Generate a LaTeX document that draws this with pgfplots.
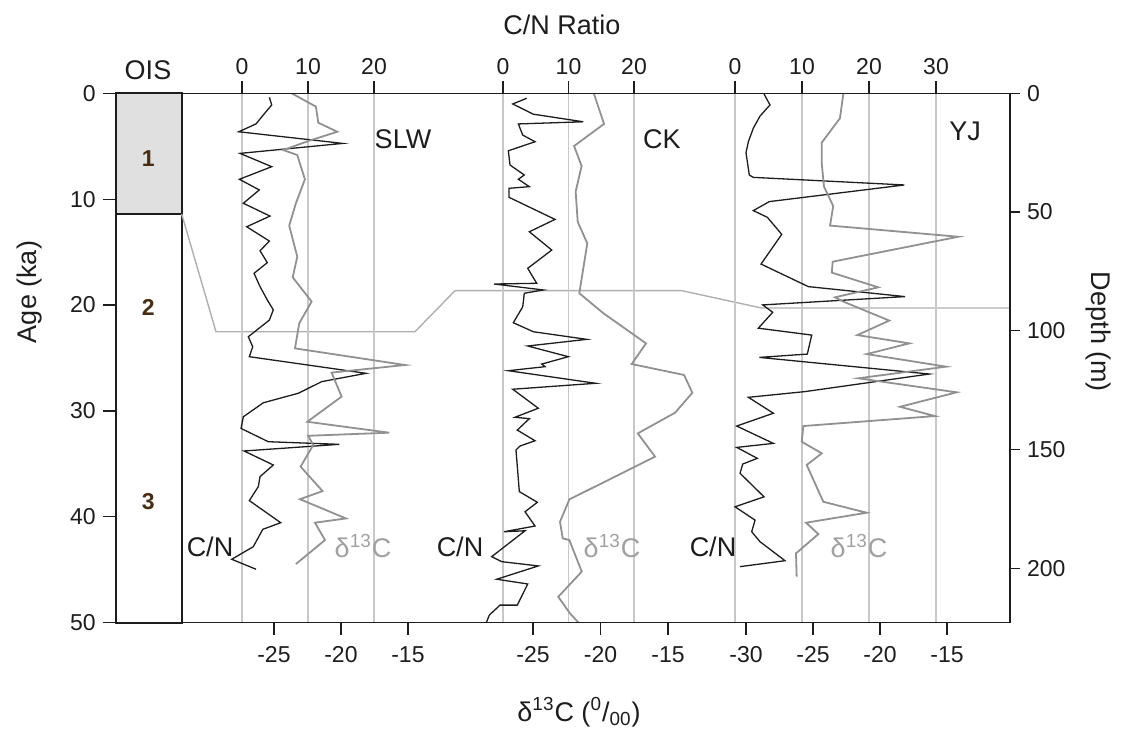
\documentclass[border=0pt]{standalone}
\usepackage{fontspec}
\setmainfont{Liberation Sans}
\usepackage{pgfplots}
\pgfplotsset{compat=1.18}

\definecolor{ink}{RGB}{30,28,28}
\definecolor{dgray}{RGB}{145,145,145}
\definecolor{gridgray}{RGB}{200,200,200}
\definecolor{conngray}{RGB}{175,175,175}
\definecolor{labgray}{RGB}{160,160,160}
\definecolor{oisfill}{RGB}{224,224,224}
\definecolor{oisnum}{RGB}{70,45,20}

% one frame for every overlaid axis: 1 px of the reference = 0.5pt
\pgfplotsset{
  frame/.style={at={(0,0)}, anchor=south west, scale only axis,
    width=447.15pt, height=264.7pt, tick align=outside,
    axis line style={ink, line width=0.75pt},
    every tick/.style={ink, line width=0.6pt},
    ticklabel style={font=\fontsize{11.5}{13}\selectfont, text=ink}},
  panel/.style={frame, ymin=0, ymax=222.9, y dir=reverse,
    axis y line=none, major tick length=6pt},
  cn/.style={panel, axis x line*=top, xmajorgrids,
    grid style={gridgray, line width=0.7pt}},
  d13/.style={panel, axis x line*=bottom, xticklabel style={yshift=-2.5pt}},
  cnline/.style={ink, line width=0.65pt, mark=none},
  dline/.style={dgray, line width=0.9pt, mark=none},
}

\begin{document}
\begin{tikzpicture}

% age axis, OIS column and boundary connectors (x in reference pixels)
\begin{axis}[frame, xmin=115.7, xmax=1010, ymin=0, ymax=50, y dir=reverse,
  axis x line=none, axis y line*=left, major tick length=6.5pt,
  ytick={0,10,20,30,40,50}, yticklabels={0,10,20,30,40,50}, clip=false]
\fill[oisfill] (axis cs:115.7,0) rectangle (axis cs:181.7,11.4);
\draw[ink, line width=1pt] (axis cs:115.7,0) rectangle (axis cs:181.7,50);
\draw[ink, line width=1pt] (axis cs:115.7,11.4) -- (axis cs:181.7,11.4);
\draw[conngray, line width=0.7pt] (axis cs:181.7,11.4) -- (axis cs:216,22.52)
  -- (axis cs:415,22.52) -- (axis cs:455,18.64) -- (axis cs:681.7,18.64)
  -- (axis cs:761.7,20.28) -- (axis cs:1010,20.28);
\node[oisnum, font=\bfseries\fontsize{11.5}{13}\selectfont] at (axis cs:148.3,6.2) {1};
\node[oisnum, font=\bfseries\fontsize{11.5}{13}\selectfont] at (axis cs:148.3,20.2) {2};
\node[oisnum, font=\bfseries\fontsize{11.5}{13}\selectfont] at (axis cs:148.3,38.6) {3};
\end{axis}

% ---- SLW ----
\begin{axis}[cn, xmin=-19.14, xmax=116.36, xtick={0,10,20}, xticklabels={0,10,20}]
\addplot[cnline] coordinates {(4.14,1.7) (4.5,4.9) (3.23,9.1) (2.12,12.9) (-0.5,16.2)
 (15.26,21.1) (-0.3,25.3) (4.5,30.9) (-0.4,36.2) (2.62,40.7) (0.2,46.3) (4.24,51.7)
 (0.71,56.2) (4.14,62.2) (2.73,66.3) (3.83,71.3) (1.82,75.8) (2.73,81.4) (3.83,87.0)
 (4.74,91.2) (4.14,95.5) (0.95,102.5) (1.62,106.7) (1.11,110.9) (18.79,117.9)
 (12.08,121.4) (8.53,126.3) (3.23,130.3) (0.2,136.2) (-0.15,141.1) (3.98,146.7)
 (14.74,147.8) (0.3,150.6) (4.74,156.5) (2.73,161.4) (2.47,165.6) (1.11,171.5)
 (5.86,180.8) (3.14,183.6) (1.71,190.9) (-1.56,196.2) (2.12,200.4)};
\end{axis}
\begin{axis}[d13, xmin=-36.81, xmax=29.93, xtick={-25,-20,-15}, xticklabels={-25,-20,-15}]
\addplot[dline] coordinates {(-23.68,0) (-21.87,5.6) (-21.69,12.4) (-20.27,16.2)
 (-22.44,20.1) (-24.3,23.9) (-23.26,26.0) (-22.69,36.2) (-23.36,46.3) (-23.86,55.7)
 (-23.26,68.8) (-23.6,77.5) (-22.19,87.7) (-23.11,96.8) (-23.43,107.4) (-15.22,114.4)
 (-20.7,117.6) (-19.95,127.7) (-22.51,138.3) (-16.4,142.9) (-22.44,144.2)
 (-22.07,148.1) (-23.01,157.2) (-21.37,167.5) (-23.06,170.9) (-19.63,179.0)
 (-21.94,180.8) (-21.19,188.1) (-23.36,198.2)};
\end{axis}

% ---- CK ----
\begin{axis}[cn, xmin=-59.13, xmax=77.40, xtick={0,10,20}, xticklabels={0,10,20}]
\addplot[cnline] coordinates {(3.62,2.1) (1.48,4.5) (4.63,8.8) (12.26,12.0) (2.34,12.9)
 (3.01,17.6) (4.89,20.4) (0.81,24.2) (1.07,30.2) (3.25,34.4) (2.34,36.2) (4.02,39.3)
 (0.92,40.0) (0.92,43.8) (7.94,53.1) (4.02,58.3) (7.44,66.0) (3.77,73.7) (5.15,80.0)
 (-1.37,80.3) (6.15,82.8) (3.25,84.2) (3.01,89.9) (1.57,96.6) (4.63,100.4)
 (12.78,103.6) (3.77,106.4) (9.97,110.9) (5.91,114.0) (6.41,115.1) (0.81,116.8)
 (14.15,122.1) (1.48,124.6) (5.39,132.6) (1.83,136.4) (4.02,137.0) (2.18,141.8)
 (4.89,146.3) (2.6,148.5) (1.98,150.2) (2.49,167.7) (5.24,172.2) (3.36,176.2)
 (4.89,182.2) (0.15,184.6) (3.36,184.2) (-1.73,195.1) (-0.2,197.2) (5.39,199.0)
 (-0.96,204.6) (3.77,206.6) (2.18,215.5) (-0.46,215.5) (-2.09,219.7) (-2.55,222.9)};
\end{axis}
\begin{axis}[d13, xmin=-55.91, xmax=10.33, xtick={-25,-20,-15}, xticklabels={-25,-20,-15}]
\addplot[dline] coordinates {(-20.48,0.3) (-19.74,12.9) (-21.96,22.2) (-21.4,30.6)
 (-21.84,41.4) (-21.69,54.1) (-20.98,63.2) (-21.57,84.2) (-19.79,92.6) (-16.63,105.3)
 (-17.69,114.0) (-13.81,118.6) (-13.2,126.1) (-14.48,134.5) (-17.24,143.2)
 (-15.96,153.0) (-22.31,171.0) (-23.0,180.4) (-22.8,187.4) (-22.31,188.1)
 (-21.39,201.4) (-23.13,212.0) (-22.26,219.0) (-21.62,222.9)};
\end{axis}

% ---- YJ ----
\begin{axis}[cn, xmin=-92.43, xmax=41.04, xtick={0,10,20,30}, xticklabels={0,10,20,30}]
\addplot[cnline] coordinates {(4.33,0.3) (5.22,4.9) (3.73,9.6) (2.73,14.7) (1.99,20.4)
 (1.64,25.0) (2.13,34.4) (2.73,35.4) (25.27,38.6) (5.12,45.6) (2.73,49.4) (4.82,52.2)
 (6.97,59.4) (3.88,71.9) (10.94,81.4) (25.37,85.6) (4.13,89.1) (5.63,92.2)
 (3.48,98.9) (11.45,101.8) (10.79,109.8) (3.63,111.2) (29.0,118.2) (10.45,125.6)
 (1.99,128.0) (5.72,134.7) (0.25,140.1) (5.72,147.4) (0.25,149.1) (3.33,153.7)
 (1.15,156.1) (0.75,160.0) (4.33,169.9) (0,174.1) (2.99,179.7) (2.49,184.6)
 (3.73,188.8) (7.46,196.8) (0.75,199.3)};
\end{axis}
\begin{axis}[d13, xmin=-77.04, xmax=-10.30, xtick={-30,-25,-20,-15}, xticklabels={-30,-25,-20,-15}]
\addplot[dline] coordinates {(-22.74,0.3) (-22.99,10.5) (-24.35,20.8) (-24.35,29.5)
 (-24.18,39.3) (-23.49,47.5) (-23.73,55.7) (-14.16,60.4) (-23.53,70.9) (-23.6,75.5)
 (-20.13,81.7) (-23.36,85.9) (-22.74,87.7) (-19.31,95.7) (-21.69,101.8) (-17.81,105.3)
 (-20.99,109.8) (-15.07,115.1) (-21.62,120.0) (-14.28,125.9) (-18.51,132.0)
 (-15.9,135.9) (-25.72,140.1) (-25.84,146.7) (-24.35,151.6) (-25.47,156.5)
 (-24.23,172.0) (-20.99,176.6) (-25.52,180.8) (-24.6,185.6) (-26.27,193.7)
 (-26.22,203.5)};
\end{axis}

% depth axis on the right
\begin{axis}[frame, xmin=0, xmax=1, ymin=0, ymax=222.9, y dir=reverse,
  axis x line=none, axis y line*=right, major tick length=5pt,
  ytick={0,50,100,150,200}, yticklabels={0,50,100,150,200}]
\end{axis}

% texts, placed in reference pixel coordinates
\begin{scope}[x=0.5pt, y=-0.5pt, shift={(-57.85pt,311.35pt)},
  every node/.style={text=ink, font=\fontsize{13.5}{16}\selectfont}]
\node at (562,25) {C/N Ratio};
\node at (148,70) {OIS};
\node[rotate=90] at (30,292) {Age (ka)};
\node[rotate=-90] at (1098,332) {Depth (m)};
\node at (403,139) {SLW};
\node at (662,139) {CK};
\node at (965,131) {YJ};
\node at (210,547) {C/N};
\node at (460,547) {C/N};
\node at (713,547) {C/N};
\node[text=labgray] at (363,546) {δ\textsuperscript{13}C};
\node[text=labgray] at (612,546) {δ\textsuperscript{13}C};
\node[text=labgray] at (859,546) {δ\textsuperscript{13}C};
\node at (579,712) {δ\textsuperscript{13}C (\textsuperscript{0}/\textsubscript{00})};
\end{scope}

\pgfresetboundingbox
\path (-57.85pt,-57.15pt) rectangle (505.15pt,311.35pt);
\end{tikzpicture}
\end{document}
